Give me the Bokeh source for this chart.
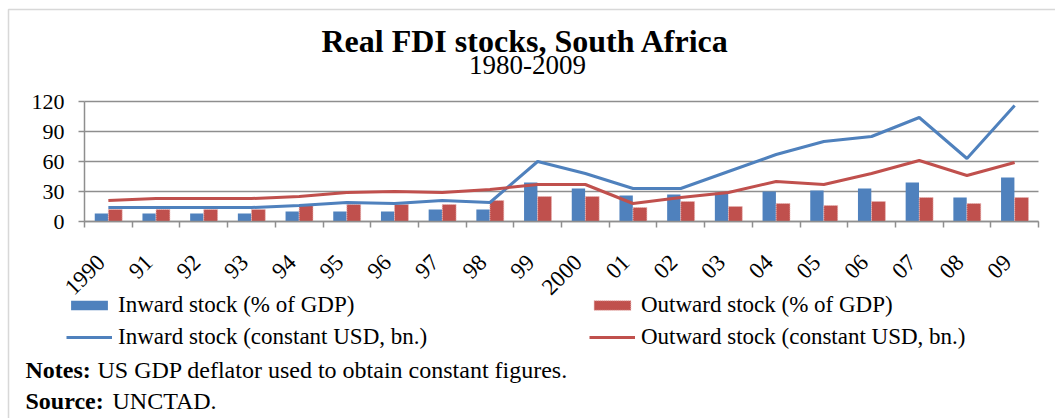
import numpy as np
from math import pi
from bokeh.plotting import figure
from bokeh.models import (ColumnDataSource, FixedTicker, Legend, LegendItem, Label,
                          BoxAnnotation, Range1d)
from bokeh.transform import dodge
from bokeh.embed import file_html
from bokeh.resources import INLINE

years = ["1990", "91", "92", "93", "94", "95", "96", "97", "98", "99",
         "2000", "01", "02", "03", "04", "05", "06", "07", "08", "09"]
inward_pct = [8, 8, 8, 8, 10, 10, 10, 12, 12, 39, 33, 26, 27, 29, 30, 31, 33, 39, 24, 44]
outward_pct = [12, 12, 12, 12, 16, 17, 17, 17, 21, 25, 25, 14, 20, 15, 18, 16, 20, 24, 18, 24]
inward_usd = [14, 14, 14, 14, 16, 19, 18, 21, 19, 60, 48, 33, 33, 50, 67, 80, 85, 104, 63, 116]
outward_usd = [21, 23, 23, 23, 25, 29, 30, 29, 32, 37, 37, 18, 24, 29, 40, 37, 48, 61, 46, 59]
y_ticks = [0, 30, 60, 90, 120]

BLUE = "#4F81BD"
RED = "#C0504D"
GRID = "#8E8E8E"
SERIF = "Liberation Serif"

# layout (pixels)
W, H = 1055, 418
PX_LEFT, PX_RIGHT = 84, 1038      # plot area, x
PX_TOP, PX_ZERO = 101, 221        # plot area, y (120 -> top, 0 -> zero)
n = len(years)
cat_px = (PX_RIGHT - PX_LEFT) / n
y_px = (PX_ZERO - PX_TOP) / 120.0
LABEL_SHIFT = 0.15                # tick labels sit slightly left of category centre

pos = np.arange(n) + 0.5
src = ColumnDataSource(dict(x=pos, year=years, inp=inward_pct, outp=outward_pct,
                            inu=inward_usd, outu=outward_usd))

x_rng = Range1d(-PX_LEFT / cat_px, (W - PX_LEFT) / cat_px)
y_rng = Range1d(-(H - PX_ZERO) / y_px, PX_ZERO / y_px)

p = figure(width=W, height=H, output_backend="svg", toolbar_location=None,
           x_range=x_rng, y_range=y_rng, min_border=0, title=None)
p.outline_line_color = None
p.background_fill_color = "white"
p.border_fill_color = "white"

bar_in = p.vbar(x=dodge("x", -0.145), top="inp", width=0.28, bottom=0, source=src,
                fill_color=BLUE, line_color=None)
bar_out = p.vbar(x=dodge("x", 0.145), top="outp", width=0.29, bottom=0, source=src,
                 fill_color=RED, line_color="#E8B4B3", line_dash="1 1", line_width=1)
line_in = p.line(x="x", y="inu", source=src, line_color=BLUE, line_width=3)
line_out = p.line(x="x", y="outu", source=src, line_color=RED, line_width=3)

# axes
lab_pos = [float(v - LABEL_SHIFT) for v in pos]
xa = p.xaxis[0]
xa.fixed_location = 0
xa.bounds = (0, n)
xa.ticker = FixedTicker(ticks=lab_pos, minor_ticks=list(range(n + 1)))
xa.major_label_overrides = {v: y for v, y in zip(lab_pos, years)}
xa.major_tick_line_color = None
xa.major_tick_out = 0
xa.major_tick_in = 0
xa.minor_tick_line_color = GRID
xa.minor_tick_line_width = 1.5
xa.minor_tick_out = 6
xa.minor_tick_in = 0
xa.axis_line_color = GRID
xa.axis_line_width = 1.5
xa.major_label_orientation = pi / 4
xa.major_label_text_font = SERIF
xa.major_label_text_font_size = "23px"
xa.major_label_text_color = "black"
xa.major_label_standoff = 31

ya = p.yaxis[0]
ya.fixed_location = 0
ya.bounds = (0, 120)
ya.ticker = FixedTicker(ticks=y_ticks)
ya.minor_tick_line_color = None
ya.major_tick_line_color = GRID
ya.major_tick_line_width = 1.5
ya.major_tick_out = 6
ya.major_tick_in = 0
ya.axis_line_color = GRID
ya.axis_line_width = 1.5
ya.major_label_text_font = SERIF
ya.major_label_text_font_size = "22px"
ya.major_label_text_color = "black"
ya.major_label_standoff = 14

p.xgrid.grid_line_color = None
p.ygrid.ticker = FixedTicker(ticks=y_ticks)
p.ygrid.grid_line_color = GRID
p.ygrid.grid_line_width = 1.5
p.ygrid.bounds = (0, 120)
try:
    p.ygrid.cross_bounds = (0, n)
except Exception:
    p.ygrid.grid_line_color = None
    p.segment(x0=0, x1=n, y0=y_ticks, y1=y_ticks, line_color=GRID, line_width=1.5,
              level="underlay")

# legends (screen units measured from bottom-left of the canvas)
def mk_legend(items, loc):
    return Legend(items=items, location=loc, orientation="vertical", padding=0, margin=0,
                  spacing=6, glyph_width=46, glyph_height=12, label_standoff=6,
                  label_height=24, label_text_font=SERIF, label_text_font_size="23px",
                  label_text_color="black", border_line_alpha=0, background_fill_alpha=0)

leg_l = mk_legend([LegendItem(label="Inward stock (% of GDP)", renderers=[bar_in]),
                   LegendItem(label="Inward stock (constant USD, bn.)", renderers=[line_in])],
                  (66, H - 350))
leg_r = mk_legend([LegendItem(label="Outward stock (% of GDP)", renderers=[bar_out]),
                   LegendItem(label="Outward stock (constant USD, bn.)", renderers=[line_out])],
                  (589, H - 350))
p.add_layout(leg_l)
p.add_layout(leg_r)

# titles and notes
def lab(x, base_y, text, size, bold=False, align="left"):
    p.add_layout(Label(x=x, y=H - base_y + 8, x_units="screen", y_units="screen", text=text,
                       text_font=SERIF, text_font_size=size, text_align=align,
                       text_baseline="alphabetic", text_color="black",
                       text_font_style="bold" if bold else "normal"))

lab(525, 48, "Real FDI stocks, South Africa", "32px", bold=True, align="center")
lab(527, 72, "1980-2009", "27px", align="center")
lab(25, 377, "Notes:", "24px", bold=True)
lab(97, 377, "US GDP deflator used to obtain constant figures.", "24px")
lab(25, 408, "Source:", "24px", bold=True)
lab(112, 408, "UNCTAD.", "24px")

p.add_layout(BoxAnnotation(left=8, right=W + 50, top=H - 9, bottom=-50,
                           left_units="screen", right_units="screen",
                           top_units="screen", bottom_units="screen",
                           fill_alpha=0, line_color="#7F7F7F", line_width=1.5))

open("out.html", "w").write(file_html(p, INLINE))
